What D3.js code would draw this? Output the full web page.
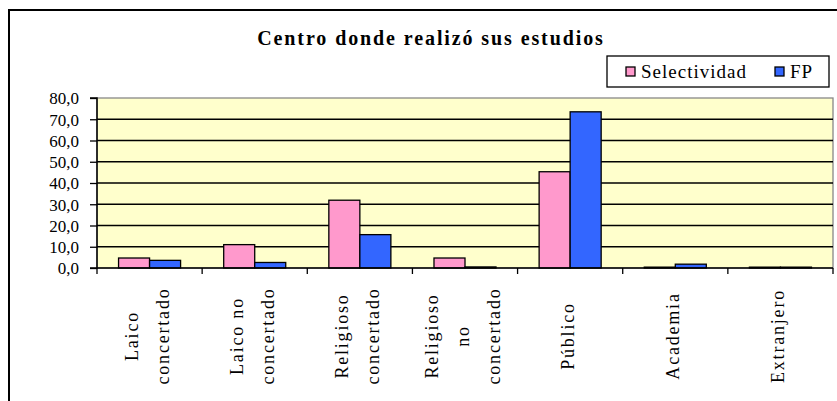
<!DOCTYPE html>
<html>
<head>
<meta charset="utf-8">
<script src="https://cdn.jsdelivr.net/npm/d3@7"></script>
<style>
  body { margin: 0; background: #fff; }
  #chart text { font-family: "Liberation Serif" !important; }
</style>
</head>
<body>
<svg id="chart" width="837" height="401"></svg>
<script>
// data
var categories = ["Laico concertado", "Laico no concertado", "Religioso concertado",
  "Religioso no concertado", "Público", "Academia", "Extranjero"];
var categoryLines = [["Laico", "concertado"], ["Laico no", "concertado"], ["Religioso", "concertado"],
  ["Religioso", "no", "concertado"], ["Público"], ["Academia"], ["Extranjero"]];
var seriesNames = ["Selectividad", "FP"];
var selectividad = [4.7, 11.0, 31.9, 4.7, 45.3, 0.4, 0.4];
var fp = [3.6, 2.6, 15.7, 0.5, 73.5, 1.8, 0.4];
var yTicks = [0, 10, 20, 30, 40, 50, 60, 70, 80];
var colors = ["#ff99cc", "#3366ff"];

var plot = {left: 97, right: 833, top: 98, bottom: 268};

var svg = d3.select("#chart");

// outer frame (runs off the right / bottom edges)
svg.append("rect")
    .attr("x", 9).attr("y", 10)
    .attr("width", 840).attr("height", 400)
    .attr("fill", "#fff")
    .attr("stroke", "#000")
    .attr("stroke-width", 2);

svg.append("text")
    .attr("x", 431).attr("y", 45)
    .attr("text-anchor", "middle")
    .style("font-family", "Liberation Serif")
    .style("font-size", "20px")
    .style("font-weight", "bold")
    .style("letter-spacing", "1.9px")
    .text("Centro donde realizó sus estudios");

var x = d3.scaleBand()
    .domain(categories)
    .range([plot.left, plot.right])
    .paddingInner(0.41)
    .paddingOuter(0.205);

var x1 = d3.scaleBand()
    .domain(seriesNames)
    .range([0, x.bandwidth()]);

var y = d3.scaleLinear()
    .domain([0, 80])
    .range([plot.bottom, plot.top]);

// plot background
svg.append("rect")
    .attr("x", plot.left).attr("y", plot.top)
    .attr("width", plot.right - plot.left)
    .attr("height", plot.bottom - plot.top)
    .attr("fill", "#ffffcc")
    .attr("stroke", "#888")
    .attr("stroke-width", 1.3);

// gridlines
svg.append("g")
  .selectAll("line")
    .data(yTicks.filter(function(d) { return d > 0 && d < 80; }))
  .enter().append("line")
    .attr("x1", plot.left).attr("x2", plot.right)
    .attr("y1", function(d) { return y(d); })
    .attr("y2", function(d) { return y(d); })
    .attr("stroke", "#000")
    .attr("stroke-width", 1.3);

// bars
var rows = categories.map(function(c, i) {
  return {cat: c, vals: [selectividad[i], fp[i]]};
});

var groups = svg.append("g")
  .selectAll("g")
    .data(rows)
  .enter().append("g")
    .attr("transform", function(d) { return "translate(" + x(d.cat) + ",0)"; });

groups.selectAll("rect")
    .data(function(d) { return d.vals.map(function(v, j) { return {name: seriesNames[j], v: v, j: j}; }); })
  .enter().append("rect")
    .attr("x", function(d) { return x1(d.name); })
    .attr("y", function(d) { return y(d.v); })
    .attr("width", x1.bandwidth())
    .attr("height", function(d) { return y(0) - y(d.v); })
    .attr("fill", function(d) { return colors[d.j]; })
    .attr("stroke", "#000")
    .attr("stroke-width", 1.3);

// y axis
var yAxis = d3.axisLeft(y)
    .tickValues(yTicks)
    .tickSize(7)
    .tickPadding(11)
    .tickFormat(function(d) { return d.toFixed(1).replace(".", ","); });

var gy = svg.append("g")
    .attr("transform", "translate(" + plot.left + ",0)")
    .call(yAxis);
gy.attr("font-family", null).attr("font-size", null);
gy.select(".domain").attr("stroke", "#000").attr("stroke-width", 1.5).attr("d", "M-7," + plot.top + "H0V" + plot.bottom + "H-7");
gy.selectAll(".tick line").attr("stroke", "#000").attr("stroke-width", 1.3);
gy.selectAll(".tick text")
    .style("font-family", "Liberation Serif")
    .style("font-size", "17px")
    .attr("fill", "#000")
    .attr("dy", "0.34em");

// x axis line and category boundary ticks
var step = x.step(), pad = step * x.paddingInner() / 2;
var bounds = categories.map(function(c) { return x(c) - pad; }).concat([plot.right]);

svg.append("line")
    .attr("x1", plot.left).attr("x2", plot.right)
    .attr("y1", y(0)).attr("y2", y(0))
    .attr("stroke", "#000").attr("stroke-width", 1.5);

svg.append("g")
  .selectAll("line")
    .data(bounds)
  .enter().append("line")
    .attr("x1", function(d) { return d; })
    .attr("x2", function(d) { return d; })
    .attr("y1", y(0)).attr("y2", y(0) + 6)
    .attr("stroke", "#000").attr("stroke-width", 1.3);

// category labels, rotated
var lineGap = 31;
var labels = svg.append("g")
  .selectAll("text")
    .data(categories)
  .enter().append("text")
    .attr("transform", function(d) {
      return "translate(" + (x(d) + x.bandwidth() / 2) + ",336) rotate(-90)";
    })
    .attr("text-anchor", "middle")
    .style("font-family", "Liberation Serif")
    .style("font-size", "18px")
    .style("letter-spacing", "1.8px");

labels.each(function(d, i) {
  var lines = categoryLines[i];
  var first = -(lines.length - 1) * lineGap / 2 + 4;
  d3.select(this).selectAll("tspan")
      .data(lines)
    .enter().append("tspan")
      .attr("x", 0)
      .attr("y", function(t, k) { return first + k * lineGap; })
      .text(function(t) { return t; });
});

// legend
var legend = svg.append("g");
legend.append("rect")
    .attr("x", 607).attr("y", 56)
    .attr("width", 222).attr("height", 31)
    .attr("fill", "#fff")
    .attr("stroke", "#000")
    .attr("stroke-width", 1.3);

var legendX = [626, 775];
seriesNames.forEach(function(name, j) {
  legend.append("rect")
      .attr("x", legendX[j]).attr("y", 67)
      .attr("width", 9).attr("height", 9)
      .attr("fill", colors[j])
      .attr("stroke", "#000")
      .attr("stroke-width", 1.3);
  legend.append("text")
      .attr("x", legendX[j] + 15).attr("y", 78)
      .style("font-family", "Liberation Serif")
      .style("font-size", "19px")
      .style("letter-spacing", "1px")
      .text(name);
});
</script>
</body>
</html>
